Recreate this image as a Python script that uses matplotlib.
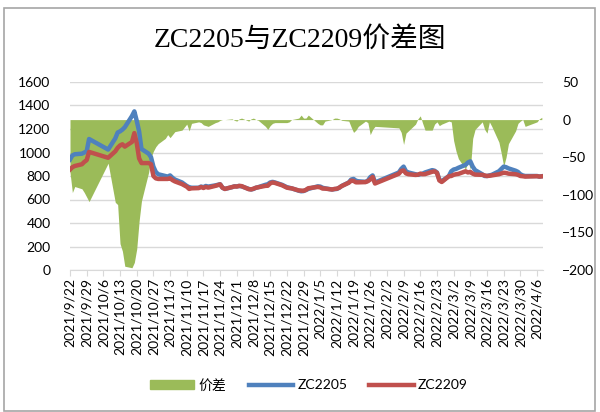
import matplotlib
matplotlib.use("Agg")
import matplotlib.pyplot as plt
from matplotlib.patches import Patch, Rectangle
from matplotlib.lines import Line2D
import pandas as pd

plt.rcParams["font.family"] = ["Lato", "Noto Sans CJK SC", "DejaVu Sans"]

# 交易日(剔除国庆/元旦/春节/清明休市)
holidays = ["2021-10-01", "2021-10-04", "2021-10-05", "2021-10-06", "2021-10-07",
            "2022-01-03", "2022-01-31", "2022-02-01", "2022-02-02", "2022-02-03",
            "2022-02-04", "2022-04-04", "2022-04-05"]
dates = pd.bdate_range("2021-09-22", "2022-04-08")
dates = dates[~dates.isin(pd.to_datetime(holidays))]

zc2205 = [
    940, 975, 985, 990, 1000, 1010, 1115,                                    # 9月
    1025, 1120, 1170, 1180, 1195, 1215, 1310, 1350, 1270, 1180, 1030, 990,
    960, 880, 835, 815,                                                      # 10月
    800, 795, 805, 785, 770, 745, 730, 715, 705, 700, 700, 710, 705, 715,
    710, 720, 725, 730, 700, 690, 705, 712,                                  # 11月
    712, 715, 712, 690, 685, 690, 700, 705, 725, 730, 745, 750, 745, 725,
    715, 705, 700, 695, 675, 670, 672, 680, 690,                             # 12月
    712, 710, 700, 695, 685, 688, 690, 700, 715, 745, 770, 775, 760, 755,
    750, 760, 790, 805, 745,                                                 # 1月
    830, 860, 880, 840, 830, 815, 810, 815, 820, 830, 850, 845, 830, 770,
    755, 800,                                                                # 2月
    840, 855, 860, 870, 895, 915, 925, 880, 850, 815, 800, 800, 805, 810,
    840, 860, 880, 875, 865, 845, 835, 815, 805, 800, 800, 795, 798,         # 3-4月
]
zc2209 = [
    855, 875, 885, 900, 920, 935, 1005,
    955, 1010, 1040, 1060, 1070, 1050, 1090, 1165, 1080, 950, 910, 910,
    900, 800, 780, 775,
    775, 775, 781, 765, 754, 731, 720, 709, 690, 695, 697, 706, 698, 707,
    701, 716, 722, 729, 700, 690, 706, 711,
    710, 716, 714, 688, 686, 692, 700, 704, 716, 717, 737, 745, 741, 721,
    711, 701, 697, 695, 677, 676, 674, 682, 696,
    707, 703, 693, 693, 685, 690, 692, 701, 714, 743, 760, 758, 746, 746,
    748, 756, 770, 792, 736,
    819, 843, 847, 822, 815, 809, 811, 820, 815, 816, 836, 839, 827, 762,
    749, 798,
    800, 810, 815, 818, 840, 830, 835, 820, 812, 810, 805, 800, 802, 805,
    815, 822, 828, 826, 820, 815, 810, 800, 798, 795, 798, 795, 797,
]
spread = [
    -70, -97, -89, -92, -97, -103, -109,
    -58, -110, -113, -165, -175, -195, -197, -190, -172, -135, -108, -70,
    -50, -42, -36, -32,
    -25, -20, -24, -20, -16, -14, -10, -6, -15, -5, -3, -4, -7, -8,
    -9, -4, -3, -1, 0, 0, 1, -1,
    -2, 1, 2, -2, 1, 2, 0, -1, -9, -13, -8, -5, -4, -4,
    -4, -4, -3, 0, 2, 6, 2, 2, 6,
    -5, -7, -7, -2, 0, 2, 2, 1, -1, -2, -10, -17, -14, -9,
    -2, -4, -20, -13, -9,
    -11, -17, -33, -18, -15, -6, 1, 5, -5, -14, -14, -6, -3, -8,
    -6, -2,
    -3, -28, -42, -52, -66, -55, -66, -25, -13, -3, -13, -18, -3, -9,
    -30, -45, -62, -50, -32, -15, -5, -2, 0, -9, -3, 1, 3,
]
week_ticks = pd.date_range("2021-09-22", "2022-04-06", freq="7D")

GREEN, BLUE, RED = "#9BBB59", "#4F81BD", "#C0504D"
GRID = "#D9D9D9"

fig = plt.figure(figsize=(6, 4.12), dpi=100)
fig.patches.append(Rectangle((4 / 600, 1 / 412), 591 / 600, 403 / 412,
                             transform=fig.transFigure, fill=False,
                             edgecolor="#A6A6A6", lw=1.2))

pos = [70 / 600, 1 - 270 / 412, 473 / 600, 188 / 412]
ax = fig.add_axes(pos)           # 左轴 + 网格
ax2 = ax.twinx()                 # 右轴: 价差面积
ax3 = ax.twinx()                 # 两条价格线(左轴刻度)

xmin, xmax = pd.Timestamp("2021-09-22"), pd.Timestamp("2022-04-08 12:00")
for a in (ax, ax2, ax3):
    a.set_xlim(xmin, xmax)
    for s in a.spines.values():
        s.set_visible(False)

ax.set_ylim(0, 1600)
ax.set_yticks(range(0, 1601, 200))
ax.yaxis.grid(True, color=GRID, lw=1)
ax.set_axisbelow(True)
ax.spines["bottom"].set_visible(True)
ax.spines["bottom"].set_color(GRID)
ax.tick_params(axis="y", length=0, labelsize=10, pad=14)
ax.set_xticks(week_ticks)
ax.set_xticklabels([f"{d.year}/{d.month}/{d.day}" for d in week_ticks],
                   rotation=90, fontsize=10)
ax.tick_params(axis="x", length=4, color=GRID, pad=2)

ax2.fill_between(dates, 0, spread, color=GREEN, lw=0)
ax2.set_ylim(-200, 50)
ax2.set_yticks(range(-200, 51, 50))
ax2.tick_params(axis="y", length=0, labelsize=10, pad=14)

ax3.plot(dates, zc2205, color=BLUE, lw=3.2, solid_joinstyle="round")
ax3.plot(dates, zc2209, color=RED, lw=3.2, solid_joinstyle="round")
ax3.set_ylim(0, 1600)
ax3.set_yticks([])

fig.text(0.5, 1 - 40 / 412, "ZC2205与ZC2209价差图", ha="center", va="center",
         fontsize=20, family=["Liberation Serif", "Noto Sans CJK SC"])

handles = [Patch(color=GREEN, label="价差"),
           Line2D([], [], color=BLUE, lw=3.2, label="ZC2205"),
           Line2D([], [], color=RED, lw=3.2, label="ZC2209")]
fig.legend(handles=handles, loc="center", bbox_to_anchor=(0.515, 1 - 385 / 412),
           ncol=3, frameon=False, fontsize=10, handlelength=3.2,
           handleheight=0.6, columnspacing=1.6, handletextpad=0.3)

fig.savefig("out.png", dpi=100)
